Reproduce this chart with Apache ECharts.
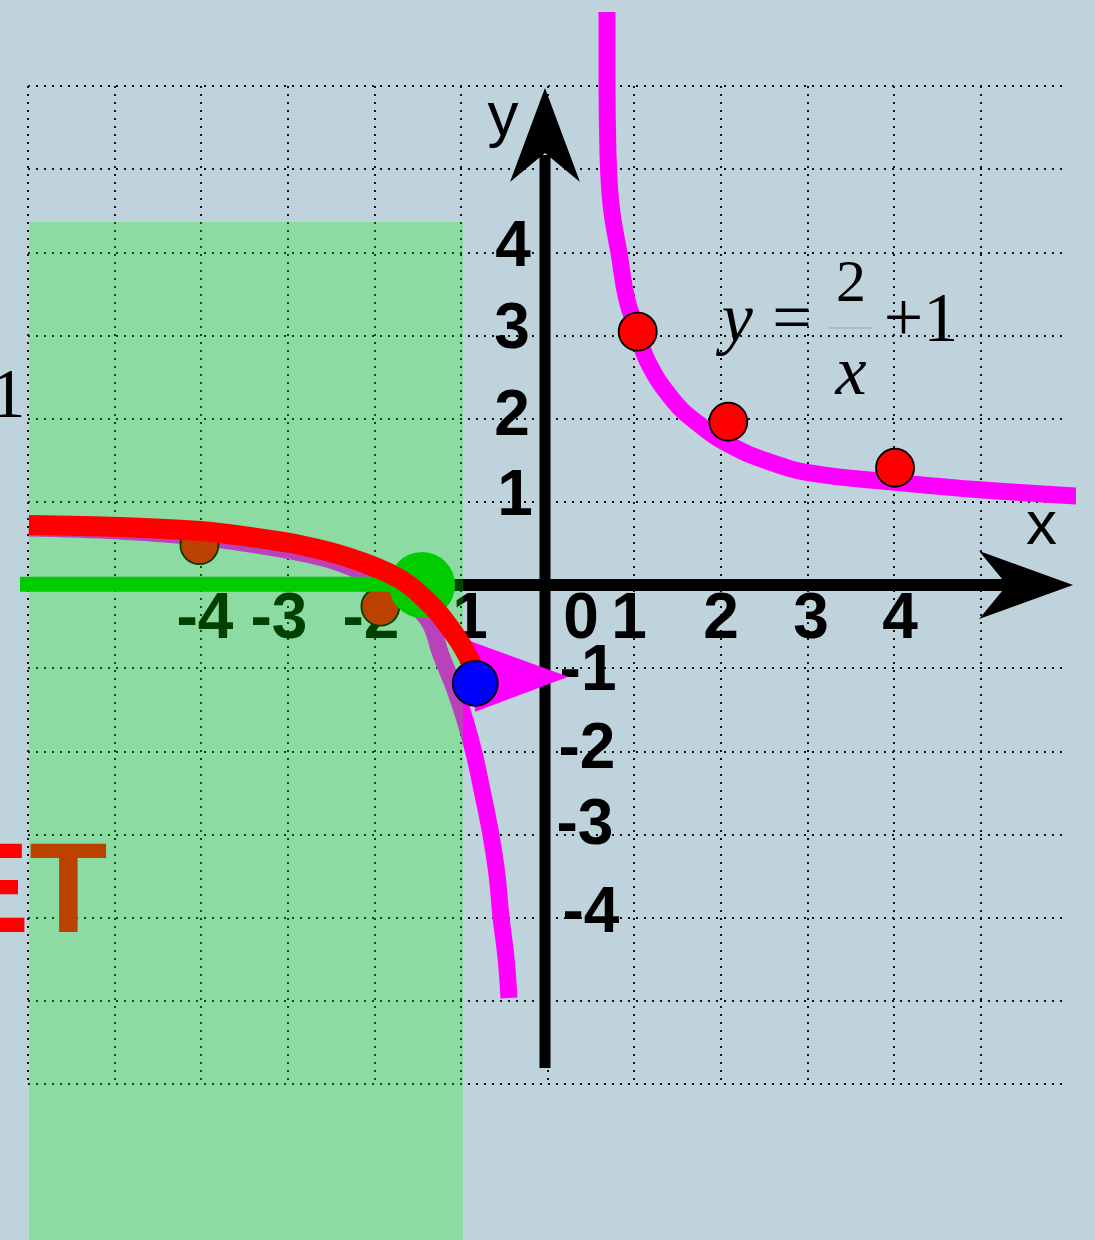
<!DOCTYPE html>
<html>
<head>
<meta charset="utf-8">
<script src="https://cdn.jsdelivr.net/npm/echarts@6/dist/echarts.min.js"></script>
<style>
html,body{margin:0;padding:0;background:#bfd3dd;}
#chart{width:1095px;height:1240px;}
</style>
</head>
<body>
<div id="chart"></div>
<script>
// ---------- data (math coordinates) ----------
const X_MIN = -6, X_MAX = 6, Y_MIN = -6, Y_MAX = 6, STEP = 1;

// y = 2/x + 1, right branch
const magentaUpper = [
  [0.687, 6.890], [0.687, 6.100], [0.699, 5.170], [0.722, 4.700], [0.757, 4.389], [0.826, 3.992],
  [0.918, 3.427], [1.045, 3.042], [1.149, 2.705], [1.449, 2.224], [1.761, 1.924],
  [2.108, 1.683], [2.535, 1.491], [3.032, 1.347], [3.990, 1.238], [5.029, 1.142],
  [6.323, 1.058]
];
// y = 2/x + 1, left branch
const magentaLower = [
  [-5.989, 0.685], [-4.938, 0.649], [-4.025, 0.577], [-3.090, 0.433], [-2.512, 0.301],
  [-2.050, 0.108], [-1.704, -0.108], [-1.380, -0.421], [-1.230, -0.842], [-1.068, -1.262],
  [-0.953, -1.623], [-0.849, -2.020], [-0.745, -2.525], [-0.653, -3.006], [-0.583, -3.487],
  [-0.537, -3.992], [-0.479, -4.485], [-0.445, -4.966]
];
// moving (red) curve
const redCurve = [
  [-5.989, 0.721], [-4.938, 0.697], [-4.014, 0.649], [-3.436, 0.577], [-2.859, 0.481],
  [-2.281, 0.325], [-1.704, 0.072], [-1.322, -0.265], [-1.045, -0.637], [-0.872, -0.950]
];
const greenLine = [[-6.243, 0.01], [-1.449, 0.01]];
const xAxisShaft = [[-1.21, 0], [5.342, 0]];
const yAxisShaft = [[-0.029, -5.807], [-0.029, 5.170]];
const arrowTips = [[6.070, 0], [-0.029, 5.976]];
const arrowDirs = ['right', 'up'];

const redDots = [[1.042, 3.046], [2.088, 1.963], [4.014, 1.410]];
const shadedDots = [[-4.02, 0.48], [-1.93, -0.26]];
const greenDot = [[-1.449, 0.0]];
const blueDot = [[-0.834, -1.182]];
const pointerTriangle = [[-0.895, -0.673], [0.240, -1.103], [-0.837, -1.523]];
const shadeRect = [-5.989, 4.365, -0.976, -8.0];

const xTickText = ['-4', '-3', '-2', '1', '0', '1', '2', '3', '4'];
const xTickPos = [-3.956, -3.101, -2.039, -0.895, 0.387, 0.941, 2.004, 3.044, 4.071];
const xTickRow = -0.421;

const yTickText = ['4', '3', '2', '1', '-1', '-2', '-3', '-4'];
const yTickX = [-0.398, -0.410, -0.410, -0.375, 0.468, 0.456, 0.433, 0.502];
const yTickY = [4.046, 3.066, 2.020, 1.058, -1.046, -1.984, -2.898, -3.956];

const axisNames = ['y', 'x'];
const axisNameX = [-0.514, 5.706];
const axisNameY = [5.619, 0.703];

const formulaText = ['y', '=', '+1', '2', 'x'];
const formulaX = [2.191, 2.824, 4.314, 3.505, 3.505];
const formulaY = [3.157, 3.157, 3.157, 3.610, 2.520];
const fractionBar = [[3.251, 3.090], [3.748, 3.090]];

const sideText = ['1', 'ET'];
const sideX = [-6.231, -6.971];
const sideY = [2.244, -3.747];

// ---------- styles ----------
const SANS = 'Liberation Sans, Arial, sans-serif';
const SERIF = 'Liberation Serif, Times New Roman, serif';
const formulaStyle = [
  {fontStyle: 'italic', fontSize: 70}, {fontSize: 70}, {fontSize: 70},
  {fontSize: 60}, {fontStyle: 'italic', fontSize: 70}
];
const sideStyle = [
  {fontFamily: SERIF, fontSize: 70, color: '#000000', align: 'center'},
  {fontFamily: SANS, fontSize: 128, fontWeight: 'bold', color: '#ff0000', align: 'left'}
];

function lineSeries(pts, color, width, z, smooth) {
  return {
    type: 'line', data: pts, symbol: 'none', smooth: smooth || false, clip: false,
    lineStyle: {color: color, width: width, cap: 'butt', join: 'round', opacity: 1},
    z: z, silent: true, animation: false
  };
}
function dotSeries(pts, color, size, border, z) {
  return {
    type: 'scatter', data: pts, symbolSize: size, clip: false,
    itemStyle: {color: color, borderColor: border, borderWidth: 1.8, opacity: 1},
    z: z, silent: true, animation: false
  };
}
function textSeries(items, z) {
  return {
    type: 'scatter', symbolSize: 1, clip: false,
    itemStyle: {color: 'rgba(0,0,0,0)', opacity: 1},
    label: {show: true, position: 'inside', formatter: '{b}', align: 'center',
      verticalAlign: 'middle', opacity: 1, textBorderWidth: 0},
    data: items, z: z, silent: true, animation: false
  };
}

const tickLabelStyle = {fontFamily: SANS, fontWeight: 'bold', fontSize: 64, color: '#000000', opacity: 1};
const tickItems = [];
xTickText.forEach((t, i) => tickItems.push({name: t, value: [xTickPos[i], xTickRow], label: tickLabelStyle}));
yTickText.forEach((t, i) => tickItems.push({name: t, value: [yTickX[i], yTickY[i]], label: tickLabelStyle}));
axisNames.forEach((t, i) => tickItems.push({name: t, value: [axisNameX[i], axisNameY[i]],
  label: {fontFamily: SANS, fontSize: 62, color: '#000000', opacity: 1}}));

const formulaItems = formulaText.map((t, i) => ({
  name: t, value: [formulaX[i], formulaY[i]],
  label: Object.assign({fontFamily: SERIF, color: '#000000', opacity: 1}, formulaStyle[i])
}));
const sideItems = sideText.map((t, i) => ({name: t, value: [sideX[i], sideY[i]],
  label: Object.assign({opacity: 1}, sideStyle[i])}));

const arrowSeries = {
  type: 'custom', clip: false, silent: true, animation: false, z: 3,
  data: arrowTips.map((p, i) => [p[0], p[1], i]),
  renderItem: function (params, api) {
    const t = api.coord([api.value(0), api.value(1)]);
    const dir = arrowDirs[api.value(2)];
    let pts;
    if (dir === 'right') {
      pts = [[t[0], t[1]], [t[0] - 94, t[1] - 34], [t[0] - 66, t[1]], [t[0] - 94, t[1] + 34]];
    } else {
      pts = [[t[0], t[1]], [t[0] - 35, t[1] + 94], [t[0], t[1] + 65], [t[0] + 35, t[1] + 94]];
    }
    return {type: 'polygon', shape: {points: pts}, style: {fill: '#000'}};
  }
};

const shadeSeries = {
  type: 'custom', clip: false, silent: true, animation: false, z: 5,
  data: [shadeRect],
  renderItem: function (params, api) {
    const a = api.coord([api.value(0), api.value(1)]);
    const b = api.coord([api.value(2), api.value(3)]);
    return {type: 'rect', shape: {x: a[0], y: a[1], width: b[0] - a[0], height: b[1] - a[1]},
      style: {fill: 'rgba(0,242,0,0.266)'}};
  }
};

const triangleSeries = {
  type: 'custom', clip: false, silent: true, animation: false, z: 8,
  data: [pointerTriangle.reduce((acc, p) => acc.concat(p), [])],
  renderItem: function (params, api) {
    const pts = [];
    for (let k = 0; k < 3; k++) pts.push(api.coord([api.value(2 * k), api.value(2 * k + 1)]));
    return {type: 'polygon', shape: {points: pts}, style: {fill: '#ff00ff'}};
  }
};

const gridLine = {show: true, lineStyle: {color: '#111', width: 2, type: [2, 6]}};

const option = {
  backgroundColor: '#bfd3dd',
  animation: false,
  grid: {left: 28, top: 86, width: 1039, height: 998, containLabel: false},
  xAxis: {
    type: 'value', min: X_MIN, max: X_MAX, interval: STEP,
    axisLine: {show: false}, axisTick: {show: false}, axisLabel: {show: false},
    splitLine: Object.assign({showMinLine: true, showMaxLine: false}, gridLine)
  },
  yAxis: {
    type: 'value', min: Y_MIN, max: Y_MAX, interval: STEP,
    axisLine: {show: false}, axisTick: {show: false}, axisLabel: {show: false},
    splitLine: Object.assign({showMinLine: true, showMaxLine: true}, gridLine)
  },
  series: [
    textSeries(sideItems, 2),
    lineSeries(xAxisShaft, '#000', 12, 3),
    lineSeries(yAxisShaft, '#000', 11, 3),
    arrowSeries,
    textSeries(tickItems, 3),
    textSeries(formulaItems, 3),
    lineSeries(fractionBar, 'rgba(90,100,110,0.4)', 1, 3),
    lineSeries(magentaUpper, '#ff00ff', 17, 3, 0.45),
    lineSeries(magentaLower, '#ff00ff', 17, 3, 0.4),
    dotSeries(redDots, '#ff0000', 38, '#000', 4),
    dotSeries(shadedDots, '#ff0000', 38, '#000', 4),
    shadeSeries,
    lineSeries(greenLine, '#00cc00', 15, 6),
    dotSeries(greenDot, '#00cc00', 66, 'rgba(0,0,0,0)', 7),
    lineSeries(redCurve, '#ff0000', 20, 8, 0.35),
    triangleSeries,
    dotSeries(blueDot, '#0000ff', 45, '#000', 9)
  ]
};

const chart = echarts.init(document.getElementById('chart'), null, {renderer: 'canvas'});
chart.setOption(option);
</script>
</body>
</html>
